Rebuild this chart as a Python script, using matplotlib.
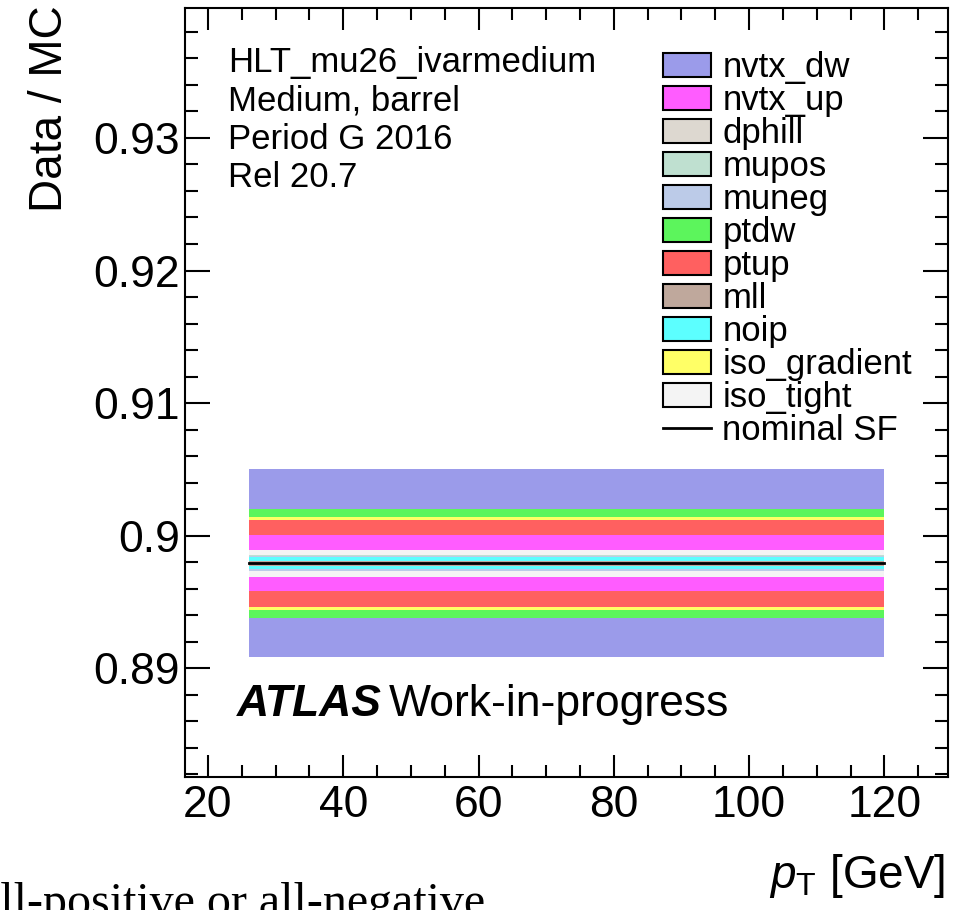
"""Data/MC scale factor systematics bands for HLT_mu26_ivarmedium."""

import matplotlib
matplotlib.use("Agg")
import matplotlib.pyplot as plt
import numpy as np
from matplotlib.patches import Patch
from matplotlib.lines import Line2D
from matplotlib.ticker import MultipleLocator, FuncFormatter

plt.rcParams['font.family'] = ['Liberation Sans', 'DejaVu Sans']
plt.rcParams['mathtext.fontset'] = 'custom'
plt.rcParams['mathtext.rm'] = 'Liberation Sans'
plt.rcParams['mathtext.it'] = 'Liberation Sans:italic'

# pT bin covered by the scale factor
pt_edges = [26, 120]
nominal_sf = 0.89792

# systematic variations (legend order) and their half widths around nominal
syst_names = ["nvtx_dw", "nvtx_up", "dphill", "mupos", "muneg", "ptdw",
              "ptup", "mll", "noip", "iso_gradient", "iso_tight"]
syst_halfwidth = [0.0071, 0.0021, 0.00062, 0.00060, 0.00058, 0.0041,
                  0.0033, 0.00018, 0.00045, 0.0035, 0.0010]
syst_colors = ["#9b9bea", "#ff5cff", "#ddd8d0", "#bfe0d0", "#bccbe8", "#5cf55c",
               "#ff6060", "#bfa89c", "#5cffff", "#ffff66", "#f4f4f4"]

info_lines = ["HLT_mu26_ivarmedium", "Medium, barrel", "Period G 2016", "Rel 20.7"]

W, H = 968, 910


def plot_sf_bands(outfile="out.png"):
    fig = plt.figure(figsize=(W / 100, H / 100), dpi=100)
    ax = fig.add_axes([185 / W, 1 - 777 / H, (948 - 185) / W, (777 - 8) / H])

    x = np.array(pt_edges, dtype=float)
    # widest band first so the narrower ones stay visible on top
    for i in np.argsort(syst_halfwidth)[::-1]:
        d = syst_halfwidth[i]
        ax.fill_between(x, nominal_sf - d, nominal_sf + d,
                        color=syst_colors[i], linewidth=0)
    ax.plot(x, [nominal_sf, nominal_sf], color="black", linewidth=2)

    ax.set_xlim(16.6, 129.4)
    ax.set_ylim(0.8818, 0.9398)

    ax.xaxis.set_major_locator(MultipleLocator(20))
    ax.xaxis.set_minor_locator(MultipleLocator(5))
    ax.yaxis.set_major_locator(MultipleLocator(0.01))
    ax.yaxis.set_minor_locator(MultipleLocator(0.002))
    ax.yaxis.set_major_formatter(FuncFormatter(lambda v, p: f"{v:g}"))
    ax.xaxis.set_major_formatter(FuncFormatter(lambda v, p: f"{v:g}"))

    ax.tick_params(which="both", direction="in", top=True, right=True,
                   width=1.5, labelsize=32)
    ax.tick_params(axis="x", which="major", length=16, pad=6)
    ax.tick_params(axis="x", which="minor", length=8.6)
    ax.tick_params(axis="y", which="major", length=18, pad=3.6)
    ax.tick_params(axis="y", which="minor", length=9.4)
    for sp in ax.spines.values():
        sp.set_linewidth(1.5)

    # legend
    handles = [Patch(facecolor=c, edgecolor="black", linewidth=1.5)
               for c in syst_colors]
    handles.append(Line2D([], [], color="black", linewidth=2))
    labels = syst_names + ["nominal SF"]
    ax.legend(handles, labels, loc="upper left", bbox_to_anchor=(0.626, 0.944),
              frameon=False, fontsize=25, labelspacing=0.0,
              handlelength=1.38, handleheight=0.66, handletextpad=0.34,
              borderpad=0, borderaxespad=0)

    # info text
    for k, line in enumerate(info_lines):
        fig.text(228 / W, 1 - (72 + 38.3 * k) / H, line, fontsize=25,
                 ha="left", va="baseline")

    fig.text(237 / W, 1 - 716 / H, "ATLAS", fontsize=32, weight="bold",
             style="italic", ha="left", va="baseline")
    fig.text(389 / W, 1 - 716 / H, "Work-in-progress", fontsize=32,
             ha="left", va="baseline")

    # axis titles
    fig.text(50 / W, 1 - 5 / H, "Data / MC", fontsize=33, rotation=90,
             ha="center", va="top")
    fig.text(945 / W, 1 - 888 / H, r"$p_{\mathrm{T}}$ [GeV]", fontsize=33,
             ha="right", va="baseline")

    # clipped caption text from the surrounding document
    fig.text(-21 / W, -6 / H, "all-positive or all-negative", fontsize=34.6,
             family="Liberation Serif", ha="left", va="baseline")

    fig.savefig(outfile, dpi=100)
    plt.close(fig)


if __name__ == "__main__":
    plot_sf_bands()
